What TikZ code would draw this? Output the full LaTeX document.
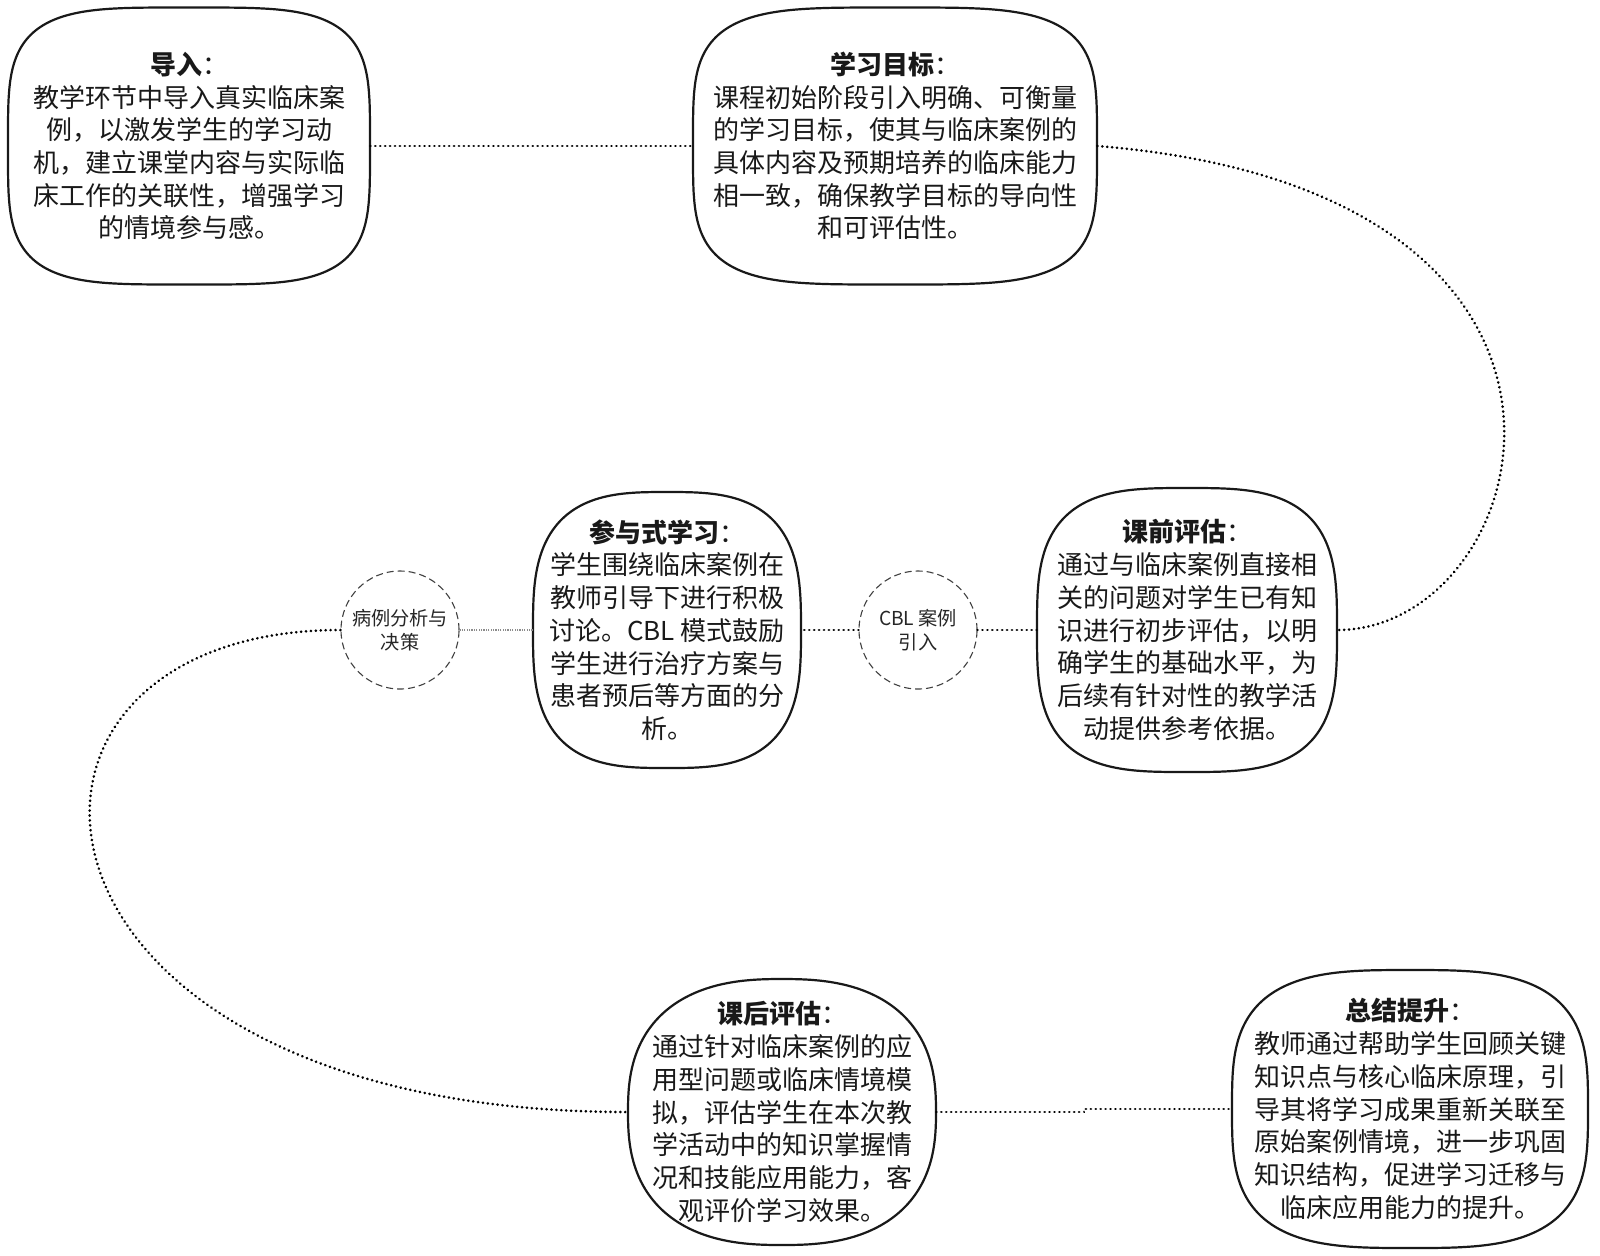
\documentclass[tikz,border=0pt]{standalone}
\usepackage{fontspec}
\newfontfamily\cjk{Noto Sans CJK SC}
\usetikzlibrary{calc}
\newcommand{\seell}[5]{%
  \draw[outline] plot[domain=1:361,samples=241]
    ({#1+#3*cos(\x)*pow(abs(cos(\x)),2/#5-1)},{#2+#4*sin(\x)*pow(abs(sin(\x)),2/#5-1)}) -- cycle;}
\begin{document}
\begin{tikzpicture}[x=0.5pt,y=-0.5pt,
  txt/.style={font=\cjk\fontsize{13pt}{16.35pt}\selectfont, align=center, inner sep=0pt, text=black!90},
  sbox/.style 2 args={txt, rectangle, minimum width=#1pt, minimum height=#2pt},
  outline/.style={line width=1.1pt, black!90},
  bubble/.style={circle, draw=black!75, dash pattern=on 3.5pt off 2pt, line width=0.55pt,
    minimum size=59pt, inner sep=0pt, align=center,
    font=\cjk\fontsize{9.6pt}{12.25pt}\selectfont, text=black!85},
  link/.style={line width=1.45pt, dash pattern=on 0.01pt off 2.45pt, line cap=round, black},
  faint/.style={line width=0.6pt, dash pattern=on 0.6pt off 0.6pt, black!45},
]
\fill[white] (0,0) rectangle (1600,1255);
\useasboundingbox (0,0) rectangle (1600,1255);

% box outlines (superellipses)
\seell{189}{146}{181}{138.5}{4}
\seell{895}{146}{202}{138.5}{4}
\seell{1187}{630}{150}{142}{3.2}
\seell{667}{630}{134}{138}{3}
\seell{782}{1112}{154}{133}{2.5}
\seell{1410}{1109}{178}{139}{3.2}

% text nodes
\node[sbox={181}{138.5}] (b1) at (189,146) {{\bfseries 导入}：\\
教学环节中导入真实临床案\\
例，以激发学生的学习动\\
机，建立课堂内容与实际临\\
床工作的关联性，增强学习\\
的情境参与感。};

\node[sbox={202}{138.5}] (b2) at (895,146) {{\bfseries 学习目标}：\\
课程初始阶段引入明确、可衡量\\
的学习目标，使其与临床案例的\\
具体内容及预期培养的临床能力\\
相一致，确保教学目标的导向性\\
和可评估性。};

\node[sbox={150}{142}] (b3) at (1187,630) {{\bfseries 课前评估}：\\
通过与临床案例直接相\\
关的问题对学生已有知\\
识进行初步评估，以明\\
确学生的基础水平，为\\
后续有针对性的教学活\\
动提供参考依据。};

\node[sbox={134}{138}] (b4) at (667,630) {{\bfseries 参与式学习}：\\
学生围绕临床案例在\\
教师引导下进行积极\\
讨论。CBL 模式鼓励\\
学生进行治疗方案与\\
患者预后等方面的分\\
析。};

\node[sbox={154}{133}] (b5) at (782,1112) {{\bfseries 课后评估}：\\
通过针对临床案例的应\\
用型问题或临床情境模\\
拟，评估学生在本次教\\
学活动中的知识掌握情\\
况和技能应用能力，客\\
观评价学习效果。};

\node[sbox={178}{139}] (b6) at (1410,1109) {{\bfseries 总结提升}：\\
教师通过帮助学生回顾关键\\
知识点与核心临床原理，引\\
导其将学习成果重新关联至\\
原始案例情境，进一步巩固\\
知识结构，促进学习迁移与\\
临床应用能力的提升。};

\node[bubble] (c1) at (400,630) {病例分析与\\决策};
\node[bubble] (c2) at (918,630) {CBL 案例\\引入};

% connectors
\draw[link] (b1.east) -- (b2.west);
\draw[link] (b2.east) .. controls +(560,45) and +(200,0) .. (b3.east);
\draw[link] (b3.west) -- (c2.east);
\draw[link] (c2.west) -- (b4.east);
\draw[faint] (b4.west) -- (c1.east);
\draw[link] (c1.west) .. controls +(-390,0) and +(-635,0) .. (b5.west);
\draw[link] (b5.east) -| ($(b5.east)!0.5!(b6.west)$) |- (b6.west);
\end{tikzpicture}
\end{document}
